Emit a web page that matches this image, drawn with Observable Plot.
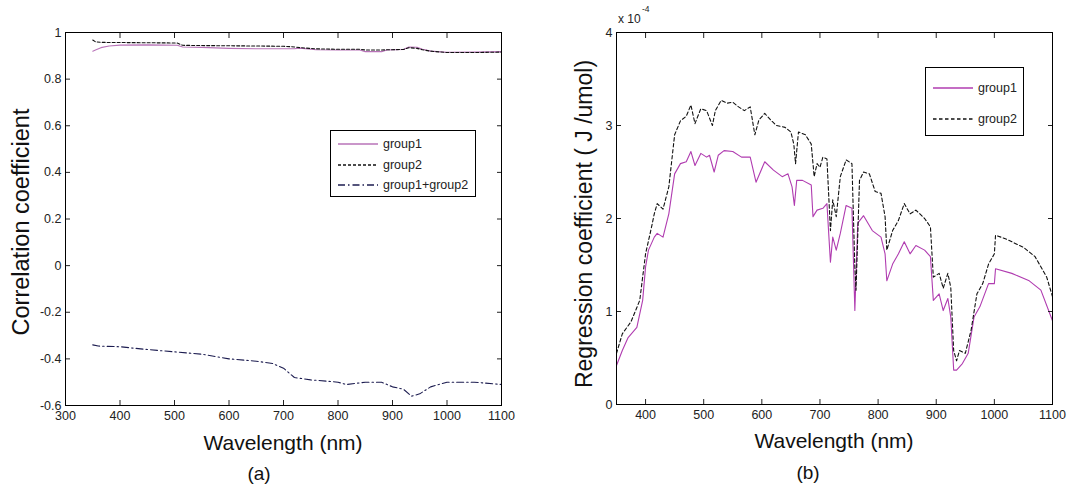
<!DOCTYPE html>
<html><head><meta charset="utf-8">
<script src="https://cdn.jsdelivr.net/npm/d3@7"></script>
<script src="https://cdn.jsdelivr.net/npm/@observablehq/plot@0.6"></script>
<style>
body{margin:0;background:#fff;font-family:"Liberation Sans",Arial,sans-serif;}
#wrap{position:relative;width:1090px;height:486px;overflow:hidden;background:#fff;}
.panel{position:absolute;top:0;width:545px;height:486px;}
.panel svg{position:absolute;left:0;top:0;}
.lbl{position:absolute;color:#111;white-space:nowrap;transform:translate(-50%,-50%);line-height:1;}
.ylbl{transform:translate(-50%,-50%) rotate(-90deg);}
.legend{position:absolute;border:1px solid #000;background:#fff;font-size:12.5px;color:#222;box-sizing:border-box;}
.legend .row{position:absolute;left:0;display:flex;align-items:center;}
.legend svg{position:static;}
.abs{position:absolute;white-space:nowrap;line-height:1;color:#222;}
</style></head>
<body><div id="wrap"></div>
<script>
// ---------- Panel (a): correlation coefficient ----------
const wlA = [350,355,365,380,400,450,505,515,550,600,650,700,720,730,760,800,840,850,880,890,920,930,945,955,970,1000,1050,1100];
const corrGroup1 = [0.92,0.925,0.935,0.942,0.946,0.947,0.945,0.938,0.936,0.932,0.93,0.93,0.93,0.933,0.926,0.925,0.925,0.918,0.918,0.925,0.927,0.938,0.937,0.928,0.92,0.915,0.916,0.918];
const corrGroup2 = [0.968,0.96,0.958,0.957,0.957,0.956,0.955,0.945,0.944,0.943,0.942,0.941,0.938,0.935,0.93,0.928,0.928,0.925,0.925,0.926,0.927,0.935,0.932,0.926,0.92,0.914,0.914,0.916];
const wlA12 = [350,360,400,450,500,550,600,650,680,700,715,720,750,800,815,850,880,900,920,935,950,970,1000,1050,1100];
const corrGroup12 = [-0.34,-0.345,-0.348,-0.36,-0.37,-0.38,-0.40,-0.41,-0.42,-0.44,-0.47,-0.48,-0.49,-0.50,-0.51,-0.50,-0.50,-0.52,-0.53,-0.56,-0.55,-0.52,-0.50,-0.50,-0.51];
const ticksXA = [300,400,500,600,700,800,900,1000,1100];
const ticksYA = [-0.6,-0.4,-0.2,0,0.2,0.4,0.6,0.8,1];

// ---------- Panel (b): regression coefficient (x 10^-4 J/umol) ----------
const wlB2 = [350,360,375,390,400,410,415,420,430,440,450,460,470,478,485,495,505,515,520,530,540,550,560,570,580,588,595,605,615,625,640,650,655,658,663,675,685,690,695,700,705,712,718,722,728,735,745,755,760,762,768,775,785,795,805,812,815,825,835,845,855,865,880,890,895,905,912,920,925,930,935,940,950,960,970,980,990,1000,1002,1020,1050,1070,1090,1100];
const regGroup2 = [0.55,0.76,0.89,1.12,1.62,1.9,2.05,2.16,2.1,2.34,2.9,3.05,3.1,3.22,3.02,3.18,3.16,3.0,3.16,3.27,3.24,3.25,3.2,3.16,3.2,2.9,3.06,3.13,3.06,3.0,2.98,2.93,2.8,2.59,2.93,2.9,2.8,2.45,2.59,2.55,2.66,2.64,1.87,2.2,2.02,2.45,2.63,2.59,1.48,1.23,2.41,2.5,2.48,2.29,2.27,2.02,1.66,1.87,1.98,2.16,2.05,2.09,2.0,1.91,1.37,1.41,1.25,1.41,1.26,0.58,0.47,0.58,0.55,0.8,1.19,1.3,1.51,1.62,1.82,1.78,1.69,1.59,1.37,1.16];
const wlB1 = [350,360,370,385,395,400,405,415,420,430,440,450,460,470,478,485,495,505,510,518,525,535,550,565,580,590,605,620,635,645,652,656,660,670,685,688,695,705,712,718,722,728,735,745,755,760,765,775,790,805,812,815,825,835,845,855,865,880,890,895,905,912,920,925,930,935,945,955,965,975,990,1000,1002,1030,1060,1080,1100];
const regGroup1 = [0.42,0.58,0.72,0.83,1.12,1.48,1.66,1.8,1.84,1.8,2.05,2.48,2.59,2.61,2.72,2.57,2.7,2.66,2.68,2.5,2.68,2.73,2.72,2.66,2.66,2.39,2.61,2.52,2.45,2.48,2.34,2.14,2.41,2.41,2.36,2.02,2.09,2.11,2.16,1.53,1.8,1.66,1.84,2.14,2.11,1.01,1.95,2.03,1.87,1.8,1.62,1.33,1.51,1.62,1.75,1.62,1.71,1.66,1.59,1.12,1.19,1.01,1.14,0.94,0.37,0.37,0.44,0.55,0.94,1.05,1.3,1.3,1.46,1.41,1.33,1.23,0.9];
const ticksXB = [400,500,600,700,800,900,1000,1100];
const ticksYB = [0,1,2,3,4];

const seriesA = [
  {name:"group1", x:wlA, y:corrGroup1, stroke:"#b873b8", dash:null},
  {name:"group2", x:wlA, y:corrGroup2, stroke:"#111", dash:"3,2"},
  {name:"group1+group2", x:wlA12, y:corrGroup12, stroke:"#1c1c50", dash:"7,3,1.5,3"}
];
const seriesB = [
  {name:"group1", x:wlB1, y:regGroup1, stroke:"#b03cb0", dash:null},
  {name:"group2", x:wlB2, y:regGroup2, stroke:"#111", dash:"3.5,2.5"}
];

const fmt = d => String(+(+d).toFixed(2));
const blank = () => "";

function panelPlot({series, xDomain, yDomain, xTicks, yTicks, mL, mR, mB}) {
  const marks = [];
  for (const s of series) {
    const rows = s.x.map((x,i)=>({x, y:s.y[i]}));
    marks.push(Plot.line(rows, {x:"x", y:"y", stroke:s.stroke, strokeWidth:1.1, strokeDasharray:s.dash}));
  }
  const common = {tickSize:-5, label:null};
  marks.push(
    Plot.axisX(xTicks, {...common, anchor:"bottom", tickPadding:11, tickFormat:fmt, fontSize:12.5, color:"#222"}),
    Plot.axisX(xTicks, {...common, anchor:"top", tickFormat:blank}),
    Plot.axisY(yTicks, {...common, anchor:"left", tickPadding:9, tickFormat:fmt, fontSize:12.5, color:"#222"}),
    Plot.axisY(yTicks, {...common, anchor:"right", tickFormat:blank}),
    Plot.frame({stroke:"#000"})
  );
  return Plot.plot({
    width:545, height:452,
    marginLeft:mL, marginRight:mR, marginTop:32, marginBottom:mB,
    x:{domain:xDomain}, y:{domain:yDomain},
    style:{fontFamily:'"Liberation Sans", Arial, sans-serif', background:"white", color:"#222", overflow:"visible"},
    marks
  });
}

function legend(series, {left, top, width, height, rowYs}) {
  const d = document.createElement("div");
  d.className = "legend";
  Object.assign(d.style, {left:left+"px", top:top+"px", width:width+"px", height:height+"px"});
  series.forEach((s,i)=>{
    const r = document.createElement("div");
    r.className = "row";
    r.style.top = (rowYs[i]-8)+"px";
    r.style.height = "16px";
    r.style.left = "7px";
    r.innerHTML = `<svg width="40" height="16"><line x1="0" x2="40" y1="8" y2="8" stroke="${s.stroke}" stroke-width="1.3" ${s.dash?`stroke-dasharray="${s.dash}"`:""}/></svg><span style="margin-left:5px">${s.name}</span>`;
    d.appendChild(r);
  });
  return d;
}

function label(text, x, y, size, rot) {
  const e = document.createElement("div");
  e.className = "lbl" + (rot ? " ylbl" : "");
  e.style.left = x+"px"; e.style.top = y+"px"; e.style.fontSize = size+"px";
  e.textContent = text;
  return e;
}
function absText(text, x, y, size) {
  const e = document.createElement("div");
  e.className = "abs";
  Object.assign(e.style, {left:x+"px", top:y+"px", fontSize:size+"px"});
  e.textContent = text;
  return e;
}

const wrap = document.getElementById("wrap");

// Panel (a)
const pa = document.createElement("div"); pa.className="panel"; pa.style.left="0px";
pa.appendChild(panelPlot({series:seriesA, xDomain:[300,1100], yDomain:[-0.6,1], xTicks:ticksXA, yTicks:ticksYA, mL:65, mR:44, mB:47}));
pa.appendChild(legend(seriesA, {left:330, top:130, width:146, height:67, rowYs:[13,34,54]}));
pa.appendChild(label("Correlation coefficient", 22, 222, 23.5, true));
pa.appendChild(label("Wavelength (nm)", 283, 442, 21, false));
pa.appendChild(label("(a)", 259, 473, 19, false));
wrap.appendChild(pa);

// Panel (b)
const pb = document.createElement("div"); pb.className="panel"; pb.style.left="545px";
pb.appendChild(panelPlot({series:seriesB, xDomain:[350,1100], yDomain:[0,4], xTicks:ticksXB, yTicks:ticksYB, mL:71, mR:38, mB:48}));
pb.appendChild(legend(seriesB, {left:380, top:67, width:99, height:69, rowYs:[20,51]}));
pb.appendChild(label("Regression coefficient ( J /umol)", 39, 224, 23, true));
pb.appendChild(label("Wavelength (nm)", 289, 440, 21, false));
pb.appendChild(label("(b)", 263, 472, 19, false));
pb.appendChild(absText("x 10", 73, 13, 12));
pb.appendChild(absText("-4", 97, 5, 8.5));
wrap.appendChild(pb);
</script>
</body></html>
